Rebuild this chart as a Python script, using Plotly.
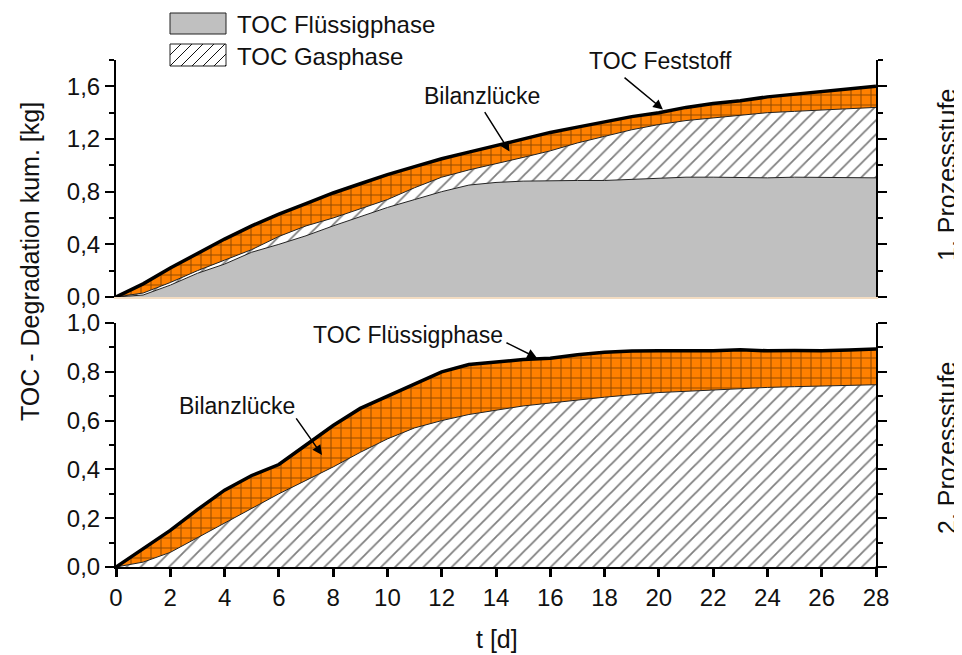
import plotly.graph_objects as go

# ---------------- data ----------------
days = list(range(29))

# 1. Prozessstufe (cumulative boundaries, kg)
s1_fluessig = [0, 0.015, 0.09, 0.18, 0.25, 0.34, 0.40, 0.465, 0.54, 0.61, 0.68, 0.74, 0.80, 0.85,
               0.87, 0.88, 0.885, 0.885, 0.885, 0.895, 0.905, 0.91, 0.91, 0.905, 0.905, 0.91,
               0.91, 0.905, 0.905]
s1_fluessig_gas = [0, 0.03, 0.11, 0.20, 0.28, 0.36, 0.46, 0.54, 0.60, 0.67, 0.74, 0.83, 0.91,
                   0.965, 1.01, 1.06, 1.11, 1.17, 1.22, 1.27, 1.31, 1.34, 1.36, 1.38, 1.40, 1.41,
                   1.42, 1.43, 1.44]
s1_feststoff = [0, 0.10, 0.22, 0.33, 0.44, 0.54, 0.63, 0.71, 0.79, 0.86, 0.93, 0.99, 1.05, 1.10,
                1.15, 1.20, 1.25, 1.29, 1.33, 1.37, 1.40, 1.44, 1.47, 1.49, 1.52, 1.54, 1.555,
                1.575, 1.60]

# 2. Prozessstufe
s2_gas = [0, 0.02, 0.06, 0.12, 0.18, 0.24, 0.30, 0.355, 0.41, 0.47, 0.525, 0.57, 0.60, 0.625,
          0.644, 0.66, 0.672, 0.685, 0.696, 0.706, 0.715, 0.72, 0.726, 0.731, 0.736, 0.739,
          0.741, 0.744, 0.747]
s2_fluessig = [0, 0.075, 0.15, 0.235, 0.315, 0.375, 0.42, 0.50, 0.58, 0.65, 0.70, 0.75, 0.80,
               0.83, 0.84, 0.85, 0.856, 0.87, 0.88, 0.885, 0.886, 0.886, 0.886, 0.89, 0.886,
               0.887, 0.886, 0.889, 0.893]

x_range = [0, 28]
x_dtick = 2
y1_range = [0, 1.8]
y2_range = [0, 1.0]

legend_labels = ["TOC Flüssigphase", "TOC Gasphase"]

# ---------------- styles / geometry ----------------
FONT = "Liberation Sans, Arial, sans-serif"
GRAY = "#c0c0c0"
ORANGE = "#ff8000"
TXT = "#111111"

OFF = 8                      # page body margin of the html page
W, H = 962 - OFF, 655 - OFF  # figure size so that it ends at the window edge
ML, MR, MT, MB = 108, 86, 0, 88
PW, PH = W - ML - MR, H - MT - MB
X0, Y1 = OFF + ML, OFF + MT + PH   # page pixel of plot-area left / bottom


def px(x):
    return (x - X0) / PW


def py(y):
    return (Y1 - y) / PH


hatch = dict(shape="/", size=10, solidity=0.18, fgcolor="#000000", bgcolor="white")
grid = dict(shape="+", size=10, solidity=0.2, fgcolor="#2a1500", bgcolor=ORANGE)

fig = go.Figure()

# ---- top panel (x2, y2)
fig.add_trace(go.Scatter(x=days, y=s1_fluessig, xaxis="x2", yaxis="y2", mode="lines",
                         fill="tozeroy", fillcolor=GRAY, line=dict(color="#222", width=1),
                         showlegend=False))
fig.add_trace(go.Scatter(x=days, y=s1_fluessig_gas, xaxis="x2", yaxis="y2", mode="lines",
                         fill="tonexty", fillcolor="white", fillpattern=hatch,
                         line=dict(color="#222", width=1), showlegend=False))
fig.add_trace(go.Scatter(x=days, y=s1_feststoff, xaxis="x2", yaxis="y2", mode="lines",
                         fill="tonexty", fillcolor=ORANGE, fillpattern=grid,
                         line=dict(color="black", width=3.5), showlegend=False))

# ---- bottom panel (x, y)
fig.add_trace(go.Scatter(x=days, y=s2_gas, xaxis="x", yaxis="y", mode="lines",
                         fill="tozeroy", fillcolor="white", fillpattern=hatch,
                         line=dict(color="#222", width=1), showlegend=False))
fig.add_trace(go.Scatter(x=days, y=s2_fluessig, xaxis="x", yaxis="y", mode="lines",
                         fill="tonexty", fillcolor=ORANGE, fillpattern=grid,
                         line=dict(color="black", width=3.5), showlegend=False))

tickfont = dict(family=FONT, size=24, color=TXT)
yaxis_common = dict(showline=True, linewidth=2, linecolor="black", mirror="ticks",
                    ticks="outside", ticklen=9, tickwidth=2, tickcolor="black",
                    tickformat=".1f", tickfont=tickfont, showgrid=False, zeroline=False,
                    fixedrange=True, automargin=False)

fig.update_layout(
    width=W, height=H, autosize=False,
    margin=dict(l=ML, r=MR, t=MT, b=MB, pad=0, autoexpand=False),
    paper_bgcolor="white", plot_bgcolor="rgba(0,0,0,0)",
    separators=",.",
    font=dict(family=FONT, size=24, color=TXT),
    showlegend=False,
    xaxis=dict(domain=[0, 1], anchor="y", range=x_range, dtick=x_dtick, tick0=0,
               showline=True, linewidth=2, linecolor="black", ticks="outside", ticklen=8,
               tickwidth=2.5, tickcolor="black", tickfont=tickfont, showgrid=False,
               zeroline=False, mirror=False, automargin=False),
    yaxis=dict(domain=[0, py(323)], anchor="x", range=y2_range, dtick=0.2, tick0=0,
               minor=dict(dtick=0.1, ticks="outside", ticklen=5, tickwidth=1.5, tickcolor="black"),
               **yaxis_common),
    xaxis2=dict(domain=[0, 1], anchor="y2", range=x_range, showline=True, linecolor="#f2dcc2",
                linewidth=1.5, ticks="", showticklabels=False, showgrid=False, zeroline=False,
                automargin=False, layer="below traces"),
    yaxis2=dict(domain=[py(297), py(60)], anchor="x2", range=y1_range, dtick=0.4, tick0=0,
                minor=dict(dtick=0.2, ticks="outside", ticklen=5, tickwidth=1.5, tickcolor="black"),
                **yaxis_common),
)

# ---- legend swatches (decoration, page pixel geometry -> paper)
sw_x0, sw_x1 = 170, 226
sw_rows = [(13, 34), (44, 66)]
shapes = []
(r0, r1) = sw_rows[0]
shapes.append(dict(type="rect", xref="paper", yref="paper", x0=px(sw_x0), x1=px(sw_x1),
                   y0=py(r1), y1=py(r0), fillcolor=GRAY, line=dict(color="#222", width=1)))
(r0, r1) = sw_rows[1]
shapes.append(dict(type="rect", xref="paper", yref="paper", x0=px(sw_x0), x1=px(sw_x1),
                   y0=py(r1), y1=py(r0), fillcolor="white", line=dict(color="#222", width=1)))
hgt = r1 - r0
k = sw_x0 - hgt
while k < sw_x1:
    xa, ya = k, r1
    xb, yb = k + hgt, r0
    if xa < sw_x0:
        ya = r1 - (sw_x0 - xa)
        xa = sw_x0
    if xb > sw_x1:
        yb = r0 + (xb - sw_x1)
        xb = sw_x1
    if xb > xa:
        shapes.append(dict(type="line", xref="paper", yref="paper", x0=px(xa), y0=py(ya),
                           x1=px(xb), y1=py(yb), line=dict(color="#111", width=1)))
    k += 11
fig.update_layout(shapes=shapes)

ann = []
for (r0, r1), lab in zip(sw_rows, legend_labels):
    ann.append(dict(x=px(235), y=py((r0 + r1) / 2 + 1), xref="paper", yref="paper", text=lab,
                    showarrow=False, xanchor="left", yanchor="middle",
                    font=dict(family=FONT, size=24, color=TXT)))
ann.append(dict(x=px(30), y=py(262), xref="paper", yref="paper",
                text="TOC - Degradation kum. [kg]", textangle=-90, showarrow=False,
                xanchor="center", yanchor="middle", font=dict(family=FONT, size=25, color=TXT)))
ann.append(dict(x=px(497), y=py(639), xref="paper", yref="paper", text="t [d]",
                showarrow=False, xanchor="center", yanchor="middle",
                font=dict(family=FONT, size=25, color=TXT)))
ann.append(dict(x=px(947), y=py(175), xref="paper", yref="paper", text="1. Prozessstufe",
                textangle=-90, showarrow=False, xanchor="center", yanchor="middle",
                font=dict(family=FONT, size=25, color=TXT)))
ann.append(dict(x=px(947), y=py(448), xref="paper", yref="paper", text="2. Prozessstufe",
                textangle=-90, showarrow=False, xanchor="center", yanchor="middle",
                font=dict(family=FONT, size=25, color=TXT)))

lab_font = dict(family=FONT, size=23, color=TXT)
ann.append(dict(x=13.5, y=1.524, xref="x2", yref="y2", text="Bilanzlücke", showarrow=False,
                font=lab_font))
ann.append(dict(x=20.05, y=1.79, xref="x2", yref="y2", text="TOC Feststoff", showarrow=False,
                font=lab_font))
ann.append(dict(x=4.46, y=0.66, xref="x", yref="y", text="Bilanzlücke", showarrow=False,
                font=lab_font))
ann.append(dict(x=10.76, y=0.951, xref="x", yref="y", text="TOC Flüssigphase", showarrow=False,
                font=lab_font))

arrow = dict(text="", showarrow=True, arrowhead=2, arrowsize=1.3, arrowwidth=1.5,
             arrowcolor="black", standoff=0, startstandoff=0)
ann.append(dict(x=14.5, y=1.105, ax=13.55, ay=1.415, xref="x2", yref="y2", axref="x2",
                ayref="y2", **arrow))
ann.append(dict(x=20.15, y=1.425, ax=18.68, ay=1.676, xref="x2", yref="y2", axref="x2",
                ayref="y2", **arrow))
ann.append(dict(x=7.59, y=0.459, ax=6.6, ay=0.615, xref="x", yref="y", axref="x",
                ayref="y", **arrow))
ann.append(dict(x=15.51, y=0.857, ax=14.33, ay=0.922, xref="x", yref="y", axref="x",
                ayref="y", **arrow))

fig.update_layout(annotations=ann)

fig.write_html(
    "out.html",
    post_script="document.documentElement.style.overflow='hidden';"
                "document.body.style.overflow='hidden';",
)
